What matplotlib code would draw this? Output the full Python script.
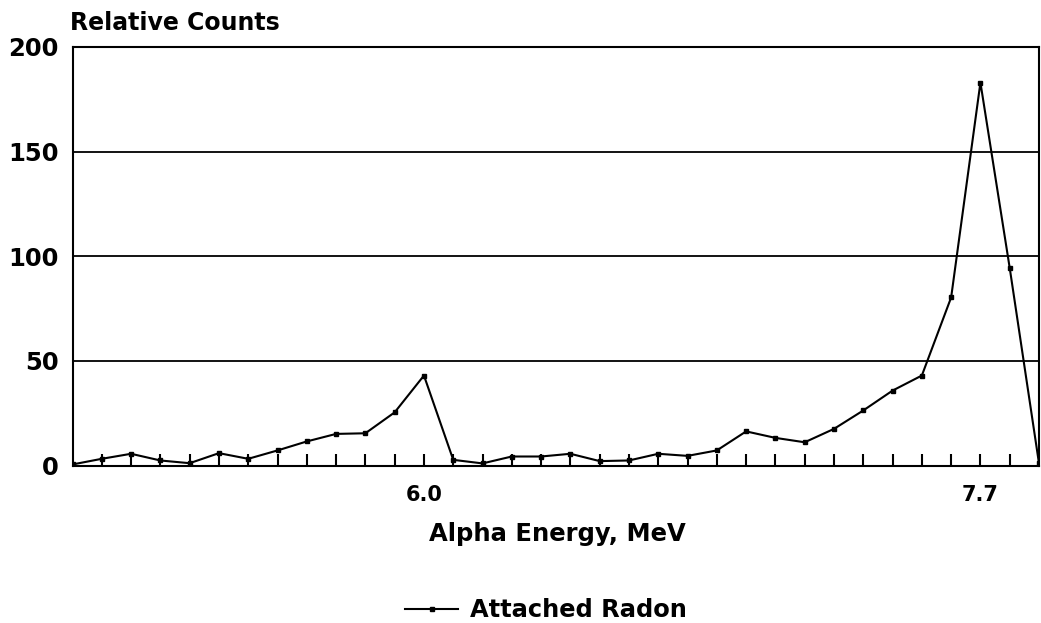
import numpy as np
import matplotlib
matplotlib.use("Agg")
import matplotlib.pyplot as plt

# channel index along the energy axis, counts
channels = np.arange(34)
counts = [0.5, 3.2, 5.6, 2.4, 1.1, 5.9, 3.2, 7.2, 11.5, 15.1, 15.4, 25.4,
          43.0, 2.7, 1.0, 4.3, 4.3, 5.6, 2.1, 2.4, 5.6, 4.6, 7.2, 16.3,
          13.2, 11.1, 17.5, 26.3, 35.8, 43.0, 80.3, 183.0, 94.4, 1.0]
label_pos = [12, 31]
label_text = ["6.0", "7.7"]
y_ticks = [0, 50, 100, 150, 200]

plt.rcParams['font.family'] = ['DejaVu Sans']
plt.rcParams['font.weight'] = 'bold'

W, H = 1041, 623
fig = plt.figure(figsize=(W / 100, H / 100), dpi=100)
ax = fig.add_axes([72.5 / W, 1 - 465.5 / H, (1039 - 72.5) / W, (465.5 - 47) / H])

ax.plot(channels, counts, color='black', lw=1.5, marker='s', ms=2.5,
        label="Attached Radon")

ax.set_xlim(0, 33)
ax.set_ylim(0, 200)

for v in y_ticks[1:-1]:
    ax.axhline(v, color='black', lw=1.3, zorder=0)

for s in ax.spines.values():
    s.set_linewidth(1.5)

# small ticks at every channel, labels only at two energies
ax.set_xticks(channels[1:-1], minor=True)
ax.tick_params(axis='x', which='minor', direction='in', length=9, width=1.5)
ax.set_xticks(label_pos)
ax.set_xticklabels(label_text, fontsize=15, fontweight='bold')
ax.tick_params(axis='x', which='major', direction='in', length=9, width=1.5, pad=14)

ax.set_yticks(y_ticks)
ax.set_yticklabels([str(v) for v in y_ticks], fontsize=17.5, fontweight='bold')
ax.tick_params(axis='y', length=0, pad=10)

fig.text(557.5 / W, 1 - 541.5 / H, "Alpha Energy, MeV", fontsize=17.5,
         fontweight='bold', ha='center', va='baseline')
fig.text(70 / W, 1 - 30 / H, "Relative Counts", fontsize=17,
         fontweight='bold', ha='left', va='baseline')

fig.legend(loc='lower left', bbox_to_anchor=(405 / W, 0.001), frameon=False,
           prop={'size': 17.4, 'weight': 'bold'}, handlelength=2.2,
           handletextpad=0.5, borderpad=0, borderaxespad=0)

fig.savefig("out.png", dpi=100)
